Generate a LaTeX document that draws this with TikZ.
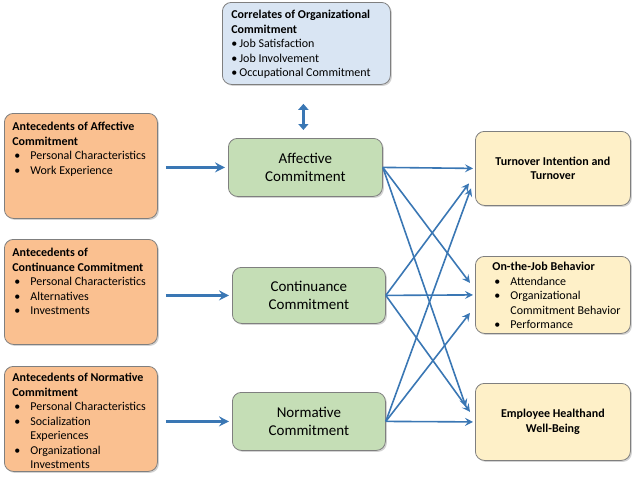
\documentclass[tikz,border=0pt]{standalone}
\usepackage{fontspec}
\setmainfont{Carlito}
\usepackage{xcolor}
\usetikzlibrary{arrows.meta,shadows,positioning}

\definecolor{antfill}{HTML}{FAC090}
\definecolor{comfill}{HTML}{C5DEB6}
\definecolor{outfill}{HTML}{FEF0C8}
\definecolor{corfill}{HTML}{D9E5F3}
\definecolor{boxline}{HTML}{7F7F7F}
\definecolor{arrowblue}{HTML}{3A77B4}

\newcommand{\bul}{\makebox[18pt][l]{\hspace{2pt}\textbullet}}
\newcommand{\bulnarrow}{\makebox[8pt][l]{\textbullet}}
\newcommand{\ind}{\hspace*{18pt}}

\begin{document}
\begin{tikzpicture}[x=1pt,y=-1pt,
    box/.style={draw=boxline, line width=0.8pt, rounded corners=9pt, anchor=north west,
        drop shadow={shadow xshift=1.5pt, shadow yshift=-1.5pt, opacity=0.35}},
    antbox/.style={box, fill=antfill, inner xsep=8pt, inner ysep=9pt,
        font=\fontsize{12}{14.5}\selectfont},
    combox/.style={box, fill=comfill, minimum width=154pt, minimum height=58pt,
        align=center, font=\fontsize{15}{18}\selectfont},
    outbox/.style={box, fill=outfill, minimum width=155pt, align=center,
        font=\fontsize{12}{14.5}\selectfont\bfseries},
    corbox/.style={box, fill=corfill, inner xsep=9pt, inner ysep=8pt,
        font=\fontsize{12}{14.5}\selectfont},
    link/.style={draw=arrowblue, line width=1.6pt,
        -{Stealth[length=8pt, width=8pt, inset=3pt]}},
    bigarrow/.style={draw=arrowblue, line width=2.4pt,
        -{Stealth[length=10pt, width=10pt, inset=3.5pt]}},
    dblarrow/.style={draw=arrowblue, line width=3pt,
        {Triangle[length=6pt, width=10pt]}-{Triangle[length=6pt, width=10pt]}}]
    \useasboundingbox (0,0) rectangle (638,479);

    % correlates
    \node[corbox] (correl) at (222,2) {\parbox[t][66pt][t]{150pt}{%
        \textbf{Correlates of Organizational}\\ \textbf{Commitment}\\
        \bulnarrow Job Satisfaction\\ \bulnarrow Job Involvement\\
        \bulnarrow Occupational Commitment}};

    % antecedents
    \node[antbox] (antaff) at (4,113) {\parbox[t][87pt][t]{137pt}{%
        \textbf{Antecedents of Affective}\\ \textbf{Commitment}\\
        \bul Personal Characteristics\\ \bul Work Experience}};
    \node[antbox] (antcont) at (4,239) {\parbox[t][87pt][t]{137pt}{%
        \textbf{Antecedents of}\\ \textbf{Continuance Commitment}\\
        \bul Personal Characteristics\\ \bul Alternatives\\ \bul Investments}};
    \node[antbox, inner ysep=7pt] (antnorm) at (4,366) {\parbox[t][91pt][t]{137pt}{%
        \textbf{Antecedents of Normative}\\ \textbf{Commitment}\\
        \bul Personal Characteristics\\ \bul Socialization\\ \ind Experiences\\
        \bul Organizational\\ \ind Investments}};

    % commitment components
    \node[combox] (aff) at (228,138) {Affective\\ Commitment};
    \node[combox, minimum width=153pt, minimum height=56pt] (cont) at (232,267) {Continuance\\ Commitment};
    \node[combox, minimum width=153pt] (norm) at (232,392) {Normative\\ Commitment};

    % outcomes
    \node[outbox, minimum height=74pt] (turn) at (475,131) {Turnover Intention and\\ Turnover};
    \node[outbox, inner xsep=5pt, inner ysep=6pt, align=left, font=\fontsize{12}{14.5}\selectfont] (job) at (475,256)
        {\parbox[t][65pt][t]{145pt}{\leftskip=12pt \textbf{On-the-Job Behavior}\\
        \bul Attendance\\ \bul Organizational\\ \ind Commitment Behavior\\ \bul Performance}};
    \node[outbox, minimum height=77pt] (emp) at (475,383) {Employee Healthand\\ Well-Being};

    % arrows
    \draw[dblarrow, shorten <=19pt, shorten >=8pt] ([xshift=-3pt]correl.south) -- ([xshift=-3pt]correl.south |- aff.north);

    \draw[bigarrow, shorten <=8pt, shorten >=3pt] (antaff.east |- aff.west) -- (aff.west);
    \draw[bigarrow, shorten <=8pt, shorten >=3pt] (antcont.east |- cont.west) -- (cont.west);
    \draw[bigarrow, shorten <=8pt, shorten >=3pt] (antnorm.east |- norm.west) -- (norm.west);

    \draw[link] (aff.east) -- ([shift={(-2,0)}]turn.west);
    \draw[link] (aff.east) -- ([shift={(-5,-12)}]job.west);
    \draw[link] (aff.east) -- ([shift={(-9,-15)}]emp.west);
    \draw[link] (cont.east) -- ([shift={(-6,15)}]turn.west);
    \draw[link] (cont.east) -- ([shift={(-2,0)}]job.west);
    \draw[link] (cont.east) -- ([shift={(-5,-10)}]emp.west);
    \draw[link] (norm.east) -- ([shift={(-4,20)}]turn.west);
    \draw[link] (norm.east) -- ([shift={(-5,18)}]job.west);
    \draw[link] (norm.east) -- ([shift={(-2,0)}]emp.west);
\end{tikzpicture}
\end{document}
